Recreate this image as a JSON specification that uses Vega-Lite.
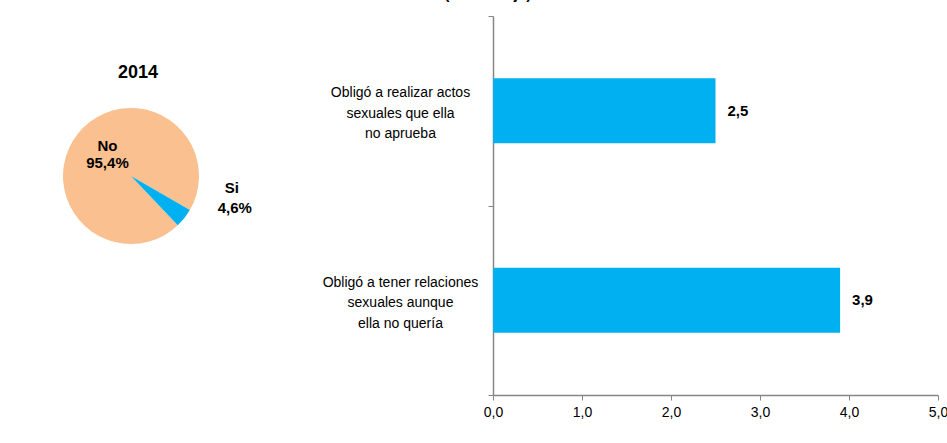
{
  "$schema": "https://vega.github.io/schema/vega-lite/v6.json",
  "padding": {"left": 0, "top": -13, "right": 0, "bottom": 0},
  "title": {"text": "(Porcentaje)", "anchor": "middle", "fontSize": 15, "fontWeight": "bold", "font": "Liberation Sans", "color": "black", "offset": 7, "dx": 14},
  "config": {
    "locale": {"number": {"decimal": ",", "thousands": ".", "grouping": [3], "currency": ["", " €"]}},
    "view": {"stroke": null},
    "font": "Liberation Sans",
    "concat": {"spacing": 60}
  },
  "hconcat": [
    {
      "width": 262,
      "height": 320,
      "data": {"values": [{"resp": "No", "pct": 0.954}, {"resp": "Si", "pct": 0.046}]},
      "layer": [
        {
          "mark": {"type": "arc", "outerRadius": 68},
          "encoding": {
            "theta": {"field": "pct", "type": "quantitative", "stack": true, "scale": {"range": [-3.8998, 2.3834]}},
            "order": {"field": "resp", "sort": "ascending"},
            "color": {"field": "resp", "type": "nominal", "scale": {"domain": ["No", "Si"], "range": ["#FAC090", "#00B0F0"]}, "legend": null}
          }
        },
        {
          "mark": {"type": "text", "radius": 30, "dy": -11, "fontWeight": "bold", "fontSize": 15, "color": "black"},
          "encoding": {
            "theta": {"field": "pct", "type": "quantitative", "stack": true},
            "order": {"field": "resp", "sort": "ascending"},
            "text": {"condition": {"test": "datum.resp === 'No'", "field": "resp", "type": "nominal"}, "value": ""}
          }
        },
        {
          "mark": {"type": "text", "radius": 30, "dy": 6, "fontWeight": "bold", "fontSize": 15, "color": "black"},
          "encoding": {
            "theta": {"field": "pct", "type": "quantitative", "stack": true},
            "order": {"field": "resp", "sort": "ascending"},
            "text": {"condition": {"test": "datum.resp === 'No'", "field": "pct", "type": "quantitative", "format": ".1%"}, "value": ""}
          }
        },
        {
          "mark": {"type": "text", "radius": 80, "dx": 38, "dy": -38, "fontWeight": "bold", "fontSize": 15, "color": "black"},
          "encoding": {
            "theta": {"field": "pct", "type": "quantitative", "stack": true},
            "order": {"field": "resp", "sort": "ascending"},
            "text": {"condition": {"test": "datum.resp === 'Si'", "field": "resp", "type": "nominal"}, "value": ""}
          }
        },
        {
          "mark": {"type": "text", "radius": 80, "dx": 41, "dy": -18, "fontWeight": "bold", "fontSize": 15, "color": "black"},
          "encoding": {
            "theta": {"field": "pct", "type": "quantitative", "stack": true},
            "order": {"field": "resp", "sort": "ascending"},
            "text": {"condition": {"test": "datum.resp === 'Si'", "field": "pct", "type": "quantitative", "format": ".1%"}, "value": ""}
          }
        },
        {
          "data": {"values": [{"year": "2014"}]},
          "mark": {"type": "text", "dx": 7, "dy": -103, "fontWeight": "bold", "fontSize": 18, "color": "black"},
          "encoding": {"text": {"field": "year", "type": "nominal"}}
        }
      ]
    },
    {
      "width": 445,
      "height": 379,
      "data": {"values": [
        {"cat": "Obligó a realizar actos|sexuales que ella|no aprueba", "value": 2.5},
        {"cat": "Obligó a tener relaciones|sexuales aunque|ella no quería", "value": 3.9}
      ]},
      "encoding": {
        "y": {
          "field": "cat", "type": "nominal", "sort": null,
          "scale": {"paddingInner": 0, "paddingOuter": 0},
          "axis": {
            "title": null, "labelExpr": "split(datum.label, '|')", "labelAlign": "center", "labelBaseline": "middle",
            "labelPadding": 88, "labelOffset": -18, "tickSize": 5, "tickBand": "extent", "labelLineHeight": 20.5,
            "labelFontSize": 14, "labelColor": "black", "labelLimit": 400,
            "domainColor": "#868686", "tickColor": "#868686", "domainWidth": 1.5
          }
        },
        "x": {
          "field": "value", "type": "quantitative", "scale": {"domain": [0, 5]},
          "axis": {
            "title": null, "values": [0, 1, 2, 3, 4, 5], "format": ".1f", "grid": false,
            "tickSize": 5, "labelPadding": 5, "labelFontSize": 14, "labelColor": "black",
            "labelFlush": false, "labelOverlap": false,
            "domainColor": "#868686", "tickColor": "#868686", "domainWidth": 1.5
          }
        }
      },
      "layer": [
        {"mark": {"type": "bar", "color": "#00B0F0", "height": {"band": 0.344}}},
        {
          "mark": {"type": "text", "align": "left", "dx": 12, "fontWeight": "bold", "fontSize": 15, "color": "black"},
          "encoding": {"text": {"field": "value", "type": "quantitative", "format": ".1f"}}
        }
      ]
    }
  ]
}
